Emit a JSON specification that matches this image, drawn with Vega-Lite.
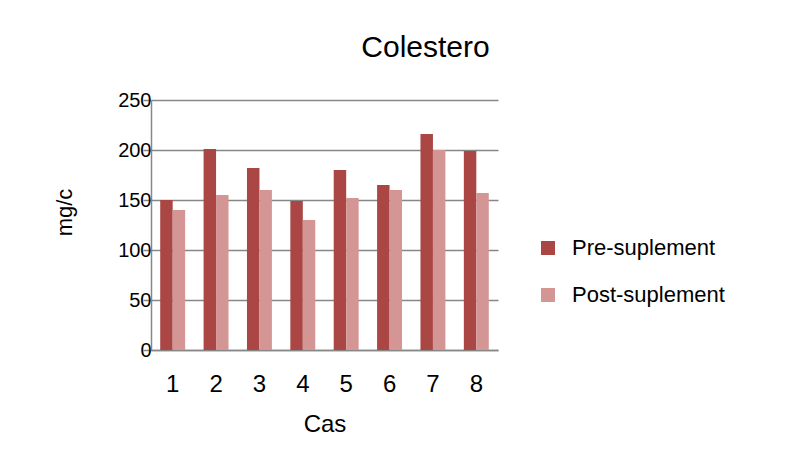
{
  "$schema": "https://vega.github.io/schema/vega-lite/v6.json",
  "autosize": "none",
  "padding": {"left": 151, "top": 100, "right": 308, "bottom": 120},
  "width": 347,
  "height": 250,
  "background": "white",
  "title": {
    "text": "Colestero",
    "font": "Liberation Sans",
    "fontSize": 30,
    "fontWeight": "normal",
    "color": "#000000",
    "frame": "group",
    "anchor": "middle",
    "dx": 101,
    "offset": 27
  },
  "data": {
    "values": [
      {"caso": "1", "serie": "Pre-suplement", "valor": 150},
      {"caso": "1", "serie": "Post-suplement", "valor": 140},
      {"caso": "2", "serie": "Pre-suplement", "valor": 201},
      {"caso": "2", "serie": "Post-suplement", "valor": 155},
      {"caso": "3", "serie": "Pre-suplement", "valor": 182},
      {"caso": "3", "serie": "Post-suplement", "valor": 160},
      {"caso": "4", "serie": "Pre-suplement", "valor": 149},
      {"caso": "4", "serie": "Post-suplement", "valor": 130},
      {"caso": "5", "serie": "Pre-suplement", "valor": 180},
      {"caso": "5", "serie": "Post-suplement", "valor": 152},
      {"caso": "6", "serie": "Pre-suplement", "valor": 165},
      {"caso": "6", "serie": "Post-suplement", "valor": 160},
      {"caso": "7", "serie": "Pre-suplement", "valor": 216},
      {"caso": "7", "serie": "Post-suplement", "valor": 200},
      {"caso": "8", "serie": "Pre-suplement", "valor": 199},
      {"caso": "8", "serie": "Post-suplement", "valor": 157}
    ]
  },
  "mark": {"type": "bar"},
  "encoding": {
    "x": {
      "field": "caso",
      "type": "nominal",
      "title": "Cas",
      "scale": {"paddingInner": 0.425, "paddingOuter": 0.2125},
      "axis": {
        "labelAngle": 0,
        "labelFont": "Liberation Sans",
        "labelFontSize": 24,
        "labelColor": "#000000",
        "labelPadding": 22,
        "ticks": false,
        "domainColor": "#878787",
        "domainWidth": 1.5,
        "titleFont": "Liberation Sans",
        "titleFontSize": 24,
        "titleFontWeight": "normal",
        "titleColor": "#000000",
        "titlePadding": 16
      }
    },
    "xOffset": {
      "field": "serie",
      "type": "nominal",
      "sort": ["Pre-suplement", "Post-suplement"],
      "scale": {"paddingInner": 0, "paddingOuter": 0}
    },
    "y": {
      "field": "valor",
      "type": "quantitative",
      "title": "mg/c",
      "scale": {"domain": [0, 250], "nice": false},
      "axis": {
        "values": [0, 50, 100, 150, 200, 250],
        "grid": true,
        "gridColor": "#878787",
        "gridWidth": 1.5,
        "domainColor": "#878787",
        "domainWidth": 1.5,
        "ticks": true,
        "tickSize": 8,
        "tickColor": "#878787",
        "tickWidth": 1.5,
        "labelPadding": -8,
        "labelFont": "Liberation Sans",
        "labelFontSize": 20,
        "labelColor": "#000000",
        "titleFont": "Liberation Sans",
        "titleFontSize": 22,
        "titleFontWeight": "normal",
        "titleColor": "#000000",
        "titleBaseline": "middle",
        "titleX": -87,
        "titleY": 112
      }
    },
    "color": {
      "field": "serie",
      "type": "nominal",
      "scale": {
        "domain": ["Pre-suplement", "Post-suplement"],
        "range": ["#AA4643", "#D49695"]
      },
      "legend": {
        "title": null,
        "orient": "none",
        "legendX": 386,
        "legendY": 137,
        "symbolType": "square",
        "symbolSize": 196,
        "symbolStrokeWidth": 0,
        "symbolOpacity": 1,
        "labelFont": "Liberation Sans",
        "labelFontSize": 22,
        "labelColor": "#000000",
        "labelOffset": 13,
        "rowPadding": 25,
        "labelLimit": 400
      }
    }
  },
  "config": {
    "view": {"stroke": null}
  }
}
